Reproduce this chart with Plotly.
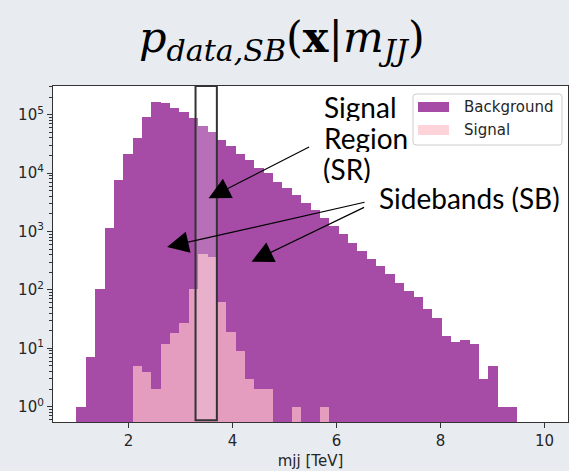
import numpy as np
import plotly.graph_objects as go

# Histogram binning in dijet mass (TeV)
MJJ_MIN, MJJ_MAX, N_BINS = 1.0, 10.0, 50

# Event counts per bin
BACKGROUND = [1, 7, 104, 1160, 7600, 21500, 39400, 91300, 167000, 157000,
              132000, 109000, 86700, 63000, 51000, 37500, 29100, 21500, 16700, 12400,
              9900, 7040, 5620, 4170, 3110, 2330, 1720, 1240, 916, 643,
              463, 334, 257, 185, 133, 97, 76, 47, 33, 16,
              13, 14, 12, 3, 5, 1, 1, 0, 0, 0]
SIGNAL = [0, 0, 0, 0, 0, 0, 5, 4, 2, 12,
          18, 27, 102, 410, 360, 63, 19, 9, 3, 2,
          2, 0, 0, 1, 0, 0, 1, 0, 0, 0,
          0, 0, 0, 0, 0, 0, 0, 0, 0, 0,
          0, 0, 0, 0, 0, 0, 0, 0, 0, 0]

# Signal-region window (TeV)
SR_LOW, SR_HIGH = 3.29, 3.70

X_TICKS = [2, 4, 6, 8, 10]
Y_EXPONENTS = [0, 1, 2, 3, 4, 5]

edges = np.linspace(MJJ_MIN, MJJ_MAX, N_BINS + 1)
centers = 0.5 * (edges[:-1] + edges[1:])
width = edges[1] - edges[0]

def nz(vals):
    return [v if v > 0 else None for v in vals]

BG_COLOR = "rgba(128,0,128,0.7)"
SIG_COLOR = "rgba(255,192,203,0.7)"
INK = "#262626"

fig = go.Figure()
fig.add_trace(go.Bar(x=centers, y=nz(BACKGROUND), width=width, name="Background",
                     marker=dict(color=BG_COLOR, line=dict(width=0)), showlegend=False))
fig.add_trace(go.Bar(x=centers, y=nz(SIGNAL), width=width, name="Signal",
                     marker=dict(color=SIG_COLOR, line=dict(width=0)), showlegend=False))

minor_vals = [m * 10.0 ** e for e in range(-1, 6) for m in range(2, 10)]

fig.update_layout(
    width=569, height=471,
    margin=dict(l=53, r=1, t=86, b=49),
    paper_bgcolor="#e8ecf1",
    plot_bgcolor="white",
    barmode="overlay", bargap=0,
    font=dict(family="DejaVu Sans", size=15, color=INK),
    xaxis=dict(range=[0.55, 10.45], tickvals=X_TICKS, ticks="outside", ticklen=5,
               tickcolor="#333", showgrid=False, zeroline=False,
               showline=True, mirror=True, linecolor="#333", linewidth=1.2,
               title=dict(text="mjj [TeV]", standoff=6, font=dict(size=15))),
    yaxis=dict(type="log", range=[-0.262, 5.49],
               tickvals=[10 ** e for e in Y_EXPONENTS],
               ticktext=[f"10<sup>{e}</sup>" for e in Y_EXPONENTS],
               ticks="outside", ticklen=5, tickcolor="#333",
               minor=dict(tickvals=minor_vals, ticks="outside", ticklen=3, tickcolor="#333"),
               showgrid=False, zeroline=False,
               showline=True, mirror=True, linecolor="#333", linewidth=1.2),
)

# Signal-region box
fig.add_shape(type="rect", xref="x", yref="paper", x0=SR_LOW, x1=SR_HIGH, y0=0.005, y1=1.0,
              line=dict(color="#333", width=2), fillcolor="rgba(255,255,255,0.2)", layer="above")

# Legend (matplotlib-style wide patches)
def px_x(p):
    return (p - 53) / 515.0

def px_y(p):
    return (422 - p) / 336.0

lx0, lx1, ly0, ly1 = px_x(413), px_x(562), px_y(145), px_y(94)
rx, ry = 3 / 515.0, 3 / 336.0
frame = (f"M{lx0+rx},{ly1} L{lx1-rx},{ly1} Q{lx1},{ly1} {lx1},{ly1-ry} "
         f"L{lx1},{ly0+ry} Q{lx1},{ly0} {lx1-rx},{ly0} L{lx0+rx},{ly0} "
         f"Q{lx0},{ly0} {lx0},{ly0+ry} L{lx0},{ly1-ry} Q{lx0},{ly1} {lx0+rx},{ly1} Z")
fig.add_shape(type="path", xref="paper", yref="paper", path=frame,
              line=dict(color="#cccccc", width=1), fillcolor="rgba(255,255,255,0.8)")
for (name, color, yc) in [("Background", BG_COLOR, 107), ("Signal", SIG_COLOR, 130)]:
    fig.add_shape(type="rect", xref="paper", yref="paper",
                  x0=px_x(418), x1=px_x(449), y0=px_y(yc + 5), y1=px_y(yc - 5),
                  line=dict(width=0), fillcolor=color)
    fig.add_annotation(xref="paper", yref="paper", x=px_x(462), y=px_y(yc),
                       xanchor="left", yanchor="middle", text=name, showarrow=False,
                       height=18, font=dict(family="DejaVu Sans", size=15, color=INK))

# Title
fig.add_annotation(xref="paper", yref="paper", x=px_x(282), y=px_y(40),
                   xanchor="center", yanchor="middle", showarrow=False,
                   text="<i>p</i><sub><i>data,SB</i></sub>(<b>x</b>|<i>m</i><sub><i>JJ</i></sub>)",
                   font=dict(family="DejaVu Serif", size=43, color="black"))

# Region labels
label_font = dict(family="Lato", size=28, color="black")
for txt, x0, yc in [("Signal", 321.7, 107.0), ("Region", 321.7, 138.0),
                    ("(SR)", 321.0, 168.5), ("Sidebands (SB)", 376.7, 197.7)]:
    fig.add_annotation(xref="paper", yref="paper", x=px_x(x0), y=px_y(yc),
                       xanchor="left", yanchor="middle", text=txt, showarrow=False,
                       height=28, font=label_font)

# Arrows: (tip x in TeV, tip count, tail offset px)
arrows = [(3.541, 3700, 102, -52), (2.743, 543, 199, -45), (4.367, 304, 114, -55)]
for ax_x, ax_y, dx, dy in arrows:
    fig.add_annotation(x=ax_x, y=np.log10(ax_y), xref="x", yref="y", text="",
                       showarrow=True, ax=dx, ay=dy, arrowhead=2, arrowsize=3.6,
                       arrowwidth=1.2, arrowcolor="black", standoff=0)

fig.write_html("out.html")
